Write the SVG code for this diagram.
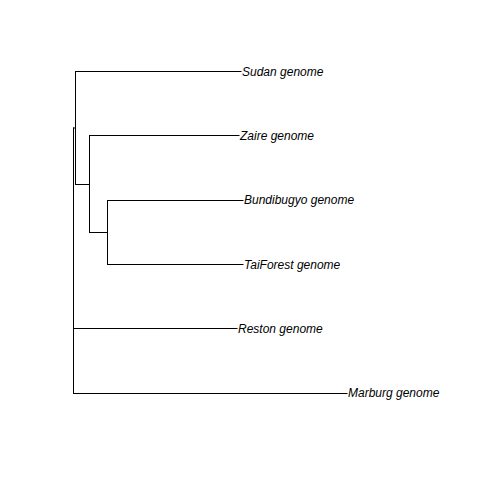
<svg xmlns="http://www.w3.org/2000/svg" width="480" height="480" viewBox="0 0 480 480">
<style>
.e{stroke:#000;stroke-width:1;fill:none;stroke-linecap:square}
.t{font-family:"Liberation Sans",Arial,sans-serif;font-size:12px;font-style:italic;fill:#000}
</style>
<rect width="480" height="480" fill="#fff"/>
<g id="connectors">
<path class="e" d="M73.5,128 V393.5"/>
<path class="e" d="M73.5,128 H75.5"/>
<path class="e" d="M75.5,71.5 V184.5"/>
<path class="e" d="M75.5,71.5 H241"/>
<path class="e" d="M75.5,184.5 H89.5"/>
<path class="e" d="M89.5,135.5 V232.5"/>
<path class="e" d="M89.5,135.5 H239"/>
<path class="e" d="M89.5,232.5 H107.5"/>
<path class="e" d="M107.5,200.5 V264.5"/>
<path class="e" d="M107.5,200.5 H243"/>
<path class="e" d="M107.5,264.5 H243"/>
<path class="e" d="M73.5,328.5 H237"/>
<path class="e" d="M73.5,393.5 H347"/>
</g>
<g id="sudan"><text class="t" x="242" y="76">Sudan genome</text></g>
<g id="zaire"><text class="t" x="240" y="140">Zaire genome</text></g>
<g id="bundibugyo"><text class="t" x="244" y="204">Bundibugyo genome</text></g>
<g id="taiforest"><text class="t" x="244" y="269">TaiForest genome</text></g>
<g id="reston"><text class="t" x="238" y="333">Reston genome</text></g>
<g id="marburg"><text class="t" x="348" y="397">Marburg genome</text></g>
</svg>
